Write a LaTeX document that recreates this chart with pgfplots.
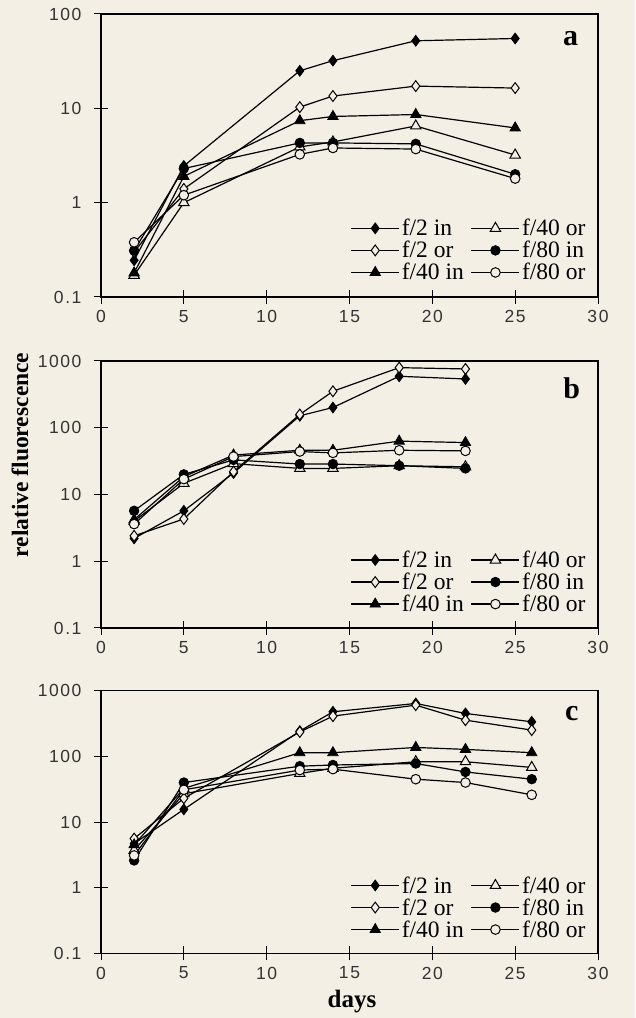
\documentclass[border=0pt]{standalone}
\usepackage{pgfplots}
\pgfplotsset{compat=1.18}
\usepackage{fontspec}
\setmainfont{Liberation Serif}
\newfontfamily\tickfont[LetterSpace=9]{Liberation Sans}
\definecolor{paper}{RGB}{244,239,229}
\pgfplotsset{
  legend image code/.code={\draw[mark repeat=2,mark phase=2,#1] plot coordinates {(0pt,0pt) (24pt,0pt) (48pt,0pt)};},
  s2in/.style={black, line width=1.2pt, mark=diamond*, mark size=5.4pt, mark options={fill=black, line width=0.8pt}},
  s2or/.style={black, line width=1.2pt, mark=diamond*, mark size=5.4pt, mark options={fill=paper, line width=1pt}},
  s40in/.style={black, line width=1.2pt, mark=triangle*, mark size=6pt, mark options={fill=black, line width=0.8pt}},
  s40or/.style={black, line width=1.2pt, mark=triangle*, mark size=6pt, mark options={fill=paper, line width=1pt}},
  s80in/.style={black, line width=1.2pt, mark=*, mark size=4.8pt, mark options={fill=black, line width=0.8pt}},
  s80or/.style={black, line width=1.2pt, mark=*, mark size=4.8pt, mark options={fill=paper, line width=1pt}},
}
\pgfplotsset{
  panel/.style={
    scale only axis, width=497pt, xmin=0, xmax=30,
    xtick={0,5,10,15,20,25,30}, xticklabels={0,5,10,15,20,25,30},
    tick pos=left, tick align=center, major tick length=14pt,
    axis line style={line width=1.1pt},
    every tick/.style={line width=1pt, black},
    tick label style={font=\tickfont\fontsize{17.5}{17.5}\selectfont, text=black!80},
    xticklabel style={yshift=-3pt},
    yticklabel style={xshift=-9pt},
    legend columns=2,
    legend cell align=left,
  },
  leg/.style={legend style={draw=none, fill=none, font=\fontsize{23.5}{25}\selectfont,
      at={(0.985,0.04)}, anchor=south east, row sep=0pt,
      /tikz/column 2/.style={column sep=5pt}}},
}
\begin{document}
\begin{tikzpicture}
\fill[paper] (0,0) rectangle (635pt,1018pt);
% ---------------- panel a ----------------
\begin{axis}[ymode=log, panel, leg, height=283pt, at={(101pt,721pt)}, anchor=south west,
  ymin=0.1, ymax=100, ytick={0.1,1,10,100}, yticklabels={0.1,1,10,100}, yminorticks=false]
\addplot[s2in] coordinates {(2,0.245) (5,2.45) (12,25) (14,32) (19,52) (25,55)};
\addlegendentry{f/2 in}
\addplot[s40or] coordinates {(2,0.17) (5,1.0) (12,3.9) (14,4.4) (19,6.5) (25,3.2)};
\addlegendentry{f/40 or}
\addplot[s2or] coordinates {(2,0.3) (5,1.4) (12,10.3) (14,13.5) (19,17.2) (25,16.4)};
\addlegendentry{f/2 or}
\addplot[s80in] coordinates {(2,0.31) (5,2.3) (12,4.3) (14,4.3) (19,4.2) (25,2.0)};
\addlegendentry{f/80 in}
\addplot[s40in] coordinates {(2,0.18) (5,1.9) (12,7.4) (14,8.2) (19,8.6) (25,6.2)};
\addlegendentry{f/40 in}
\addplot[s80or] coordinates {(2,0.38) (5,1.2) (12,3.25) (14,3.8) (19,3.7) (25,1.8)};
\addlegendentry{f/80 or}
\node[font=\fontsize{30}{30}\selectfont\bfseries, anchor=base] at (rel axis cs:0.945,0.89) {a};
\end{axis}
% ---------------- panel b ----------------
\begin{axis}[ymode=log, panel, leg, height=267pt, at={(101pt,390pt)}, anchor=south west,
  ymin=0.1, ymax=1000, ytick={0.1,1,10,100,1000}, yticklabels={0.1,1,10,100,1000}, yminorticks=false]
\addplot[s2in] coordinates {(2,2.2) (5,5.7) (8,21) (12,151) (14,201) (18,590) (22,538)};
\addlegendentry{f/2 in}
\addplot[s40or] coordinates {(2,4.0) (5,14.7) (8,29) (12,24.6) (14,24.6) (18,27) (22,26)};
\addlegendentry{f/40 or}
\addplot[s2or] coordinates {(2,2.4) (5,4.3) (8,22) (12,158) (14,352) (18,795) (22,760)};
\addlegendentry{f/2 or}
\addplot[s80in] coordinates {(2,5.7) (5,20) (8,33) (12,28.6) (14,28.6) (18,27) (22,24.6)};
\addlegendentry{f/80 in}
\addplot[s40in] coordinates {(2,4.2) (5,18.5) (8,39) (12,46) (14,46) (18,63) (22,60)};
\addlegendentry{f/40 in}
\addplot[s80or] coordinates {(2,3.6) (5,17) (8,37) (12,44) (14,42) (18,46) (22,45)};
\addlegendentry{f/80 or}
\node[font=\fontsize{30}{30}\selectfont\bfseries, anchor=base] at (rel axis cs:0.947,0.858) {b};
\end{axis}
% ---------------- panel c ----------------
\begin{axis}[ymode=log, panel, leg, height=262.5pt, at={(101pt,64.7pt)}, anchor=south west,
  ymin=0.1, ymax=1000, ytick={0.1,1,10,100,1000}, yticklabels={0.1,1,10,100,1000}, yminorticks=false]
\addplot[s2in] coordinates {(2,4.7) (5,15.6) (12,243) (14,479) (19,641) (22,452) (26,337)};
\addlegendentry{f/2 in}
\addplot[s40or] coordinates {(2,3.7) (5,27) (12,55) (14,66) (19,83) (22,83) (26,68)};
\addlegendentry{f/40 or}
\addplot[s2or] coordinates {(2,5.6) (5,23) (12,236) (14,411) (19,605) (22,357) (26,252)};
\addlegendentry{f/2 or}
\addplot[s80in] coordinates {(2,2.6) (5,40) (12,71) (14,74) (19,78) (22,58) (26,45)};
\addlegendentry{f/80 in}
\addplot[s40in] coordinates {(2,4.5) (5,32.6) (12,114) (14,114) (19,137) (22,128) (26,114)};
\addlegendentry{f/40 in}
\addplot[s80or] coordinates {(2,3.1) (5,31) (12,62) (14,64) (19,45) (22,40) (26,26)};
\addlegendentry{f/80 or}
\node[font=\fontsize{30}{30}\selectfont\bfseries, anchor=base] at (rel axis cs:0.947,0.887) {c};
\end{axis}
\node[rotate=90, font=\fontsize{23.5}{23.5}\selectfont\bfseries] at (20pt,563pt) {relative fluorescence};
\node[font=\fontsize{25}{25}\selectfont\bfseries] at (352pt,16pt) {days};
\pgfresetboundingbox
\useasboundingbox (0,0) rectangle (635pt,1018pt);
\end{tikzpicture}
\end{document}
